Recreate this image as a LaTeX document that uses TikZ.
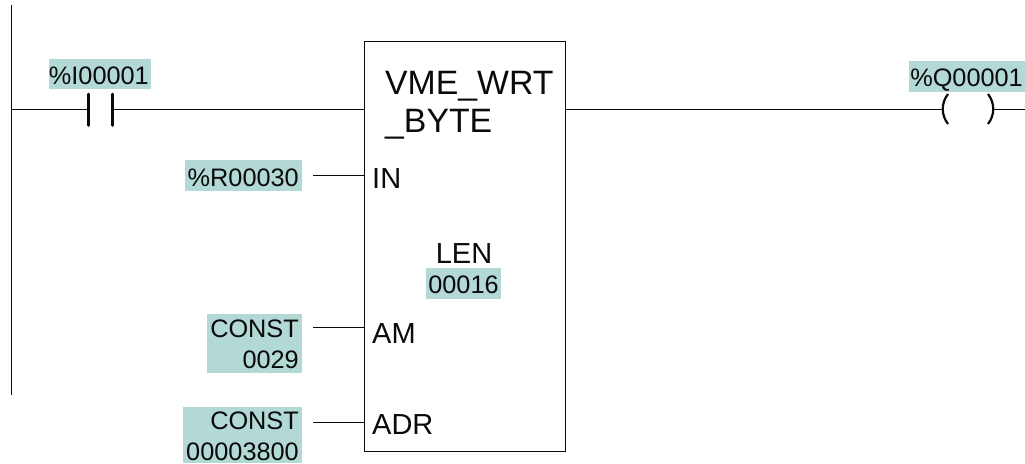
\documentclass[tikz,border=0pt]{standalone}
\usepackage{fontspec}
\setmainfont{Liberation Sans}
\definecolor{tagfill}{HTML}{B2D9D5}
\definecolor{inkc}{HTML}{0A0A0A}
\tikzset{
  wire/.style={draw=inkc,line width=1pt},
  bar/.style={draw=inkc,line width=2.6pt,line cap=round},
  curl/.style={draw=inkc,line width=2.2pt},
  tagtext/.style={font=\fontsize{25.3}{30}\selectfont,text=inkc,inner sep=0pt,anchor=base east},
  pin/.style={font=\fontsize{29}{30}\selectfont,text=inkc,inner sep=0pt,anchor=base west},
  title/.style={font=\fontsize{33.8}{36}\selectfont,text=inkc,inner sep=0pt,anchor=base west},
  fblock/.style={draw=inkc,line width=1pt,inner sep=0pt,minimum width=201pt,minimum height=410pt,anchor=north west},
}
\begin{document}
\begin{tikzpicture}[x=1pt,y=-1pt]
\useasboundingbox (0,0) rectangle (1025,463);
% highlight backgrounds
\fill[tagfill] (49,59) rectangle (151,89);
\fill[tagfill] (185,160) rectangle (302,191);
\fill[tagfill] (207,314) rectangle (302,373);
\fill[tagfill] (183,407) rectangle (302,463);
\fill[tagfill] (426,268) rectangle (501,299);
\fill[tagfill] (909,61) rectangle (1025,92);
% block
\node[fblock] (fb) at (364,41) {};
% rail
\coordinate (railtop) at (11.5,5);
\coordinate (railbot) at (11.5,395);
\draw[wire] (railtop) -- (railbot);
% contact
\coordinate (c1t) at (88.4,94);
\coordinate (c1b) at (88.4,125.5);
\coordinate (c2t) at (112.4,94);
\coordinate (c2b) at (112.4,125.5);
\coordinate (c1m) at (88.4,109);
\coordinate (c2m) at (112.4,109);
\coordinate (r1) at (11.5,109);
\coordinate (b1) at (364,109);
\draw[bar] (c1t) -- (c1b);
\draw[bar] (c2t) -- (c2b);
\draw[wire] (r1) -- (c1m);
\draw[wire] (c2m) -- (b1);
% output coil
\coordinate (b2) at (565,109.5);
\coordinate (coilL) at (943,109.5);
\coordinate (coilR) at (994,109.5);
\coordinate (railR) at (1025,109.5);
\draw[wire] (b2) -- (coilL);
\draw[wire] (coilR) -- (railR);
\draw[curl] (948,94) .. controls (941,103) and (941,115) .. (948,124);
\draw[curl] (988,94) .. controls (995,103) and (995,115) .. (988,124);
% input stubs
\coordinate (s1) at (313,175);
\coordinate (e1) at (364,175);
\coordinate (s2) at (313,327);
\coordinate (e2) at (364,327);
\coordinate (s3) at (313,422);
\coordinate (e3) at (364,422);
\draw[wire] (s1) -- (e1);
\draw[wire] (s2) -- (e2);
\draw[wire] (s3) -- (e3);
% texts
\node[title] (t1) at (385,94) {VME\_WRT};
\node[title] (t2) at (385,132) {\_BYTE};
\node[pin] (pIN) at (372,188) {IN};
\node[pin] (pAM) at (372,343) {AM};
\node[pin] (pADR) at (372,434) {ADR};
\node[pin,anchor=base] (pLEN) at (464,263) {LEN};
\node[tagtext] (v1) at (149,84) {\%I00001};
\node[tagtext] (v2) at (299,186) {\%R00030};
\node[tagtext] (v3) at (299,337) {CONST};
\node[tagtext] (v4) at (299,368) {0029};
\node[tagtext] (v5) at (299,429) {CONST};
\node[tagtext] (v6) at (299,460) {00003800};
\node[tagtext,anchor=base] (v7) at (463.5,293) {00016};
\node[tagtext] (v8) at (1023,86) {\%Q00001};
\end{tikzpicture}
\end{document}
